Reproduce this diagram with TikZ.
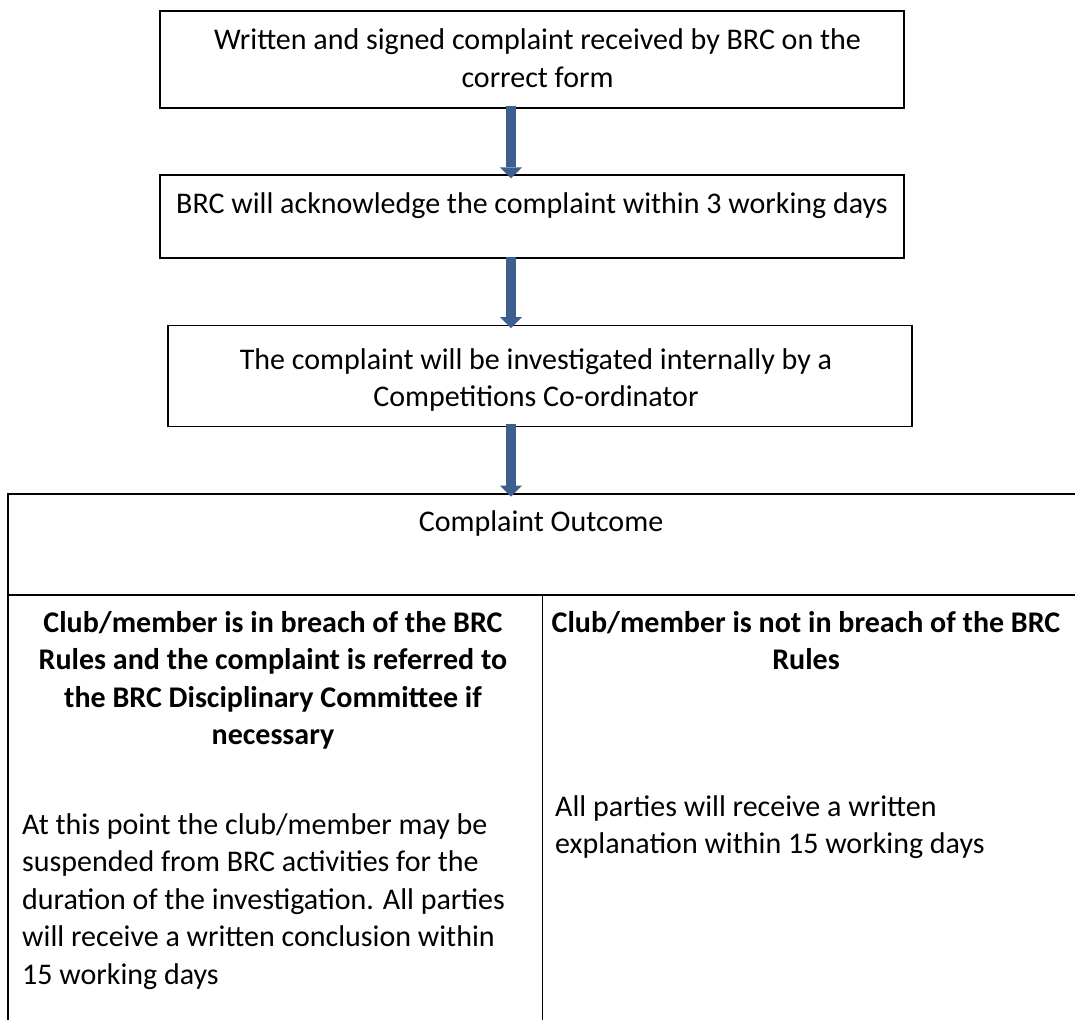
\documentclass[tikz,border=0pt]{standalone}
\usepackage{fontspec}
\setmainfont{Carlito}
\usetikzlibrary{arrows.meta}
\definecolor{arrowblue}{RGB}{60,95,142}
\begin{document}
\begin{tikzpicture}[x=1pt,y=-1pt,
  box/.style={draw=black, line width=1.3pt, inner sep=0pt, rectangle},
  txt/.style={font=\fontsize{30}{37.5}\selectfont, align=center, inner sep=0pt, anchor=base},
  txtb/.style={font=\fontsize{30}{37.5}\selectfont\bfseries, align=center, inner sep=0pt, anchor=base},
  txtl/.style={font=\fontsize{30}{37.5}\selectfont, align=left, inner sep=0pt, anchor=base west},
  flow/.style={draw=arrowblue, line width=10pt, -{Triangle[width=22pt,length=11pt,line width=0pt]}, arrowblue}
]
\useasboundingbox (0,0) rectangle (1075,1019);
\clip (0,0) rectangle (1075,1019);
\fill[white] (0,0) rectangle (1075,1019);

% boxes
\node[box, minimum width=744pt, minimum height=97pt] (b1) at (532,59.5) {};
\node[box, minimum width=744pt, minimum height=83pt] (b2) at (532,216.5) {};
\node[box, minimum width=744pt, minimum height=101pt] (b3) at (540,376.2) {};
\node[box, anchor=north west, minimum width=1100pt, minimum height=560pt] (tbl) at (7.3,493.3) {};
\coordinate (rowl) at (7.3,595);
\coordinate (rowr) at (1090,595);
\coordinate (colt) at (542.3,595);
\coordinate (colb) at (542.3,1040);
\draw[line width=1.3pt] (rowl) -- (rowr);
\draw[line width=1.3pt] (colt) -- (colb);

% texts (base anchor = baseline of last line)
\node[txt] (t1) at (537.5,87.5) {Written and signed complaint received by BRC on the\\correct form};
\node[txt] (t2) at (532,213) {BRC will acknowledge the complaint within 3 working days};
\node[txt] (t3) at (536,406.5) {The complaint will be investigated internally by a\\Competitions Co-ordinator};
\node[txt] (t4) at (541,531) {Complaint Outcome};
\node[txtb] (lb) at (273,744.5) {Club/member is in breach of the BRC\\Rules and the complaint is referred to\\the BRC Disciplinary Committee if\\necessary};
\node[txtl] (lbody) at (22,984.2) {At this point the club/member may be\\suspended from BRC activities for the\\duration of the investigation. All parties\\will receive a written conclusion within\\15 working days};
\node[txtb] (rb) at (806,669.5) {Club/member is not in breach of the BRC\\Rules};
\node[txtl] (rbody) at (555,853.5) {All parties will receive a written\\explanation within 15 working days};

% arrows
\coordinate (ax) at (511,0);
\draw[flow] ([yshift=3pt]ax |- b1.south) -- ([yshift=-4pt]ax |- b2.north);
\draw[flow] ([yshift=2pt]ax |- b2.south) -- ([yshift=-3pt]ax |- b3.north);
\draw[flow] ([yshift=3pt]ax |- b3.south) -- ([yshift=-3.4pt]ax |- tbl.north);
\end{tikzpicture}
\end{document}
